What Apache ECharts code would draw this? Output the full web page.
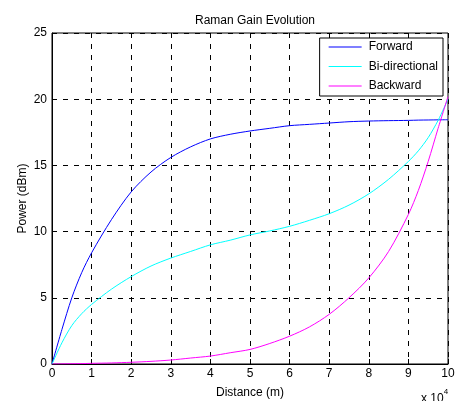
<!DOCTYPE html>
<html>
<head>
<meta charset="utf-8">
<script src="https://cdn.jsdelivr.net/npm/echarts@6/dist/echarts.min.js"></script>
<style>html,body{margin:0;padding:0;background:#fff;}#c{width:456px;height:401px;}</style>
</head>
<body>
<div id="c"></div>
<script>
// Distance in units of 10^4 m
var distance = [0,0.25,0.5,0.75,1,1.5,2,2.5,3,3.5,4,4.5,5,5.5,6,6.5,7,7.5,8,8.5,9,9.25,9.5,9.75,10];
var forward = [0,2.6,5.0,6.9,8.4,10.9,13.0,14.5,15.6,16.4,17.0,17.35,17.6,17.8,18.0,18.1,18.2,18.3,18.35,18.38,18.4,18.42,18.43,18.44,18.45];
var bidirectional = [0,1.6,2.9,3.8,4.5,5.65,6.6,7.4,8.0,8.5,9.0,9.35,9.75,10.05,10.4,10.85,11.35,12.0,12.85,13.95,15.3,16.1,17.1,18.4,20.0];
var backward = [0,0.01,0.02,0.03,0.05,0.08,0.13,0.2,0.3,0.45,0.6,0.85,1.1,1.55,2.1,2.8,3.75,5.0,6.5,8.5,11.3,13.1,15.3,17.8,20.2];
var seriesNames = ['Forward','Bi-directional','Backward'];
var xTicks = [0,1,2,3,4,5,6,7,8,9,10];
var yTicks = [0,5,10,15,20,25];

function pairs(ys){ return distance.map(function(x,i){ return [x, ys[i]]; }); }

var font = 'Liberation Sans, Arial, sans-serif';
var chart = echarts.init(document.getElementById('c'), null, {renderer:'canvas'});
var gridLine = {show:true, lineStyle:{color:'#000', type:[5,6], width:1}};
chart.setOption({
  animation:false,
  backgroundColor:'#fff',
  title:{text:'Raman Gain Evolution', left:250, top:10, textAlign:'center',
    textStyle:{fontFamily:font, fontSize:12, fontWeight:'normal', color:'#000'}},
  grid:{left:52, right:8, top:33, bottom:37, show:true, borderColor:'#000', borderWidth:1,
    containLabel:false, outerBoundsMode:'none'},
  legend:{data:seriesNames, orient:'vertical', right:13, top:38, backgroundColor:'#fff',
    borderColor:'#000', borderWidth:1, borderRadius:0, padding:[2,5,3,9], itemGap:5.5,
    itemWidth:33, itemHeight:1, icon:'rect',
    textStyle:{fontFamily:font, fontSize:12, lineHeight:14, color:'#000', padding:[0,0,0,2]}},
  xAxis:{type:'value', min:0, max:10, interval:1, name:'Distance (m)', nameLocation:'middle', nameGap:23,
    nameMoveOverlap:false,
    nameTextStyle:{fontFamily:font, fontSize:12, color:'#000'},
    axisLine:{lineStyle:{color:'#000'}}, axisTick:{inside:true, length:5, lineStyle:{color:'#000'}},
    axisLabel:{fontFamily:font, fontSize:12, color:'#000', margin:4,
      formatter:function(v){ return xTicks.indexOf(v)>=0 ? String(v) : ''; }},
    splitLine:gridLine},
  yAxis:{type:'value', min:0, max:25, interval:5, name:'Power (dBm)', nameLocation:'middle', nameGap:23,
    nameMoveOverlap:false,
    nameTextStyle:{fontFamily:font, fontSize:12, color:'#000'},
    axisLine:{show:true, lineStyle:{color:'#000'}}, axisTick:{show:true, inside:true, length:5, lineStyle:{color:'#000'}},
    axisLabel:{fontFamily:font, fontSize:12, color:'#000', margin:5,
      formatter:function(v){ return yTicks.indexOf(v)>=0 ? String(v) : ''; }},
    splitLine:gridLine},
  graphic:[{type:'text', left:421, top:388, style:{
    text:'{a|x 10}{b|4}', rich:{a:{fontFamily:font, fontSize:12, fill:'#000', padding:[7,0,0,0]},
    b:{fontFamily:font, fontSize:8, fill:'#000', padding:[0,0,7,0]}}}}],
  series:[
    {name:seriesNames[0], type:'line', data:pairs(forward), smooth:0.3, showSymbol:false, color:'#0000ff', lineStyle:{width:1}},
    {name:seriesNames[1], type:'line', data:pairs(bidirectional), smooth:0.3, showSymbol:false, color:'#00ffff', lineStyle:{width:1}},
    {name:seriesNames[2], type:'line', data:pairs(backward), smooth:0.3, showSymbol:false, color:'#ff00ff', lineStyle:{width:1}}
  ]
});
</script>
</body>
</html>
